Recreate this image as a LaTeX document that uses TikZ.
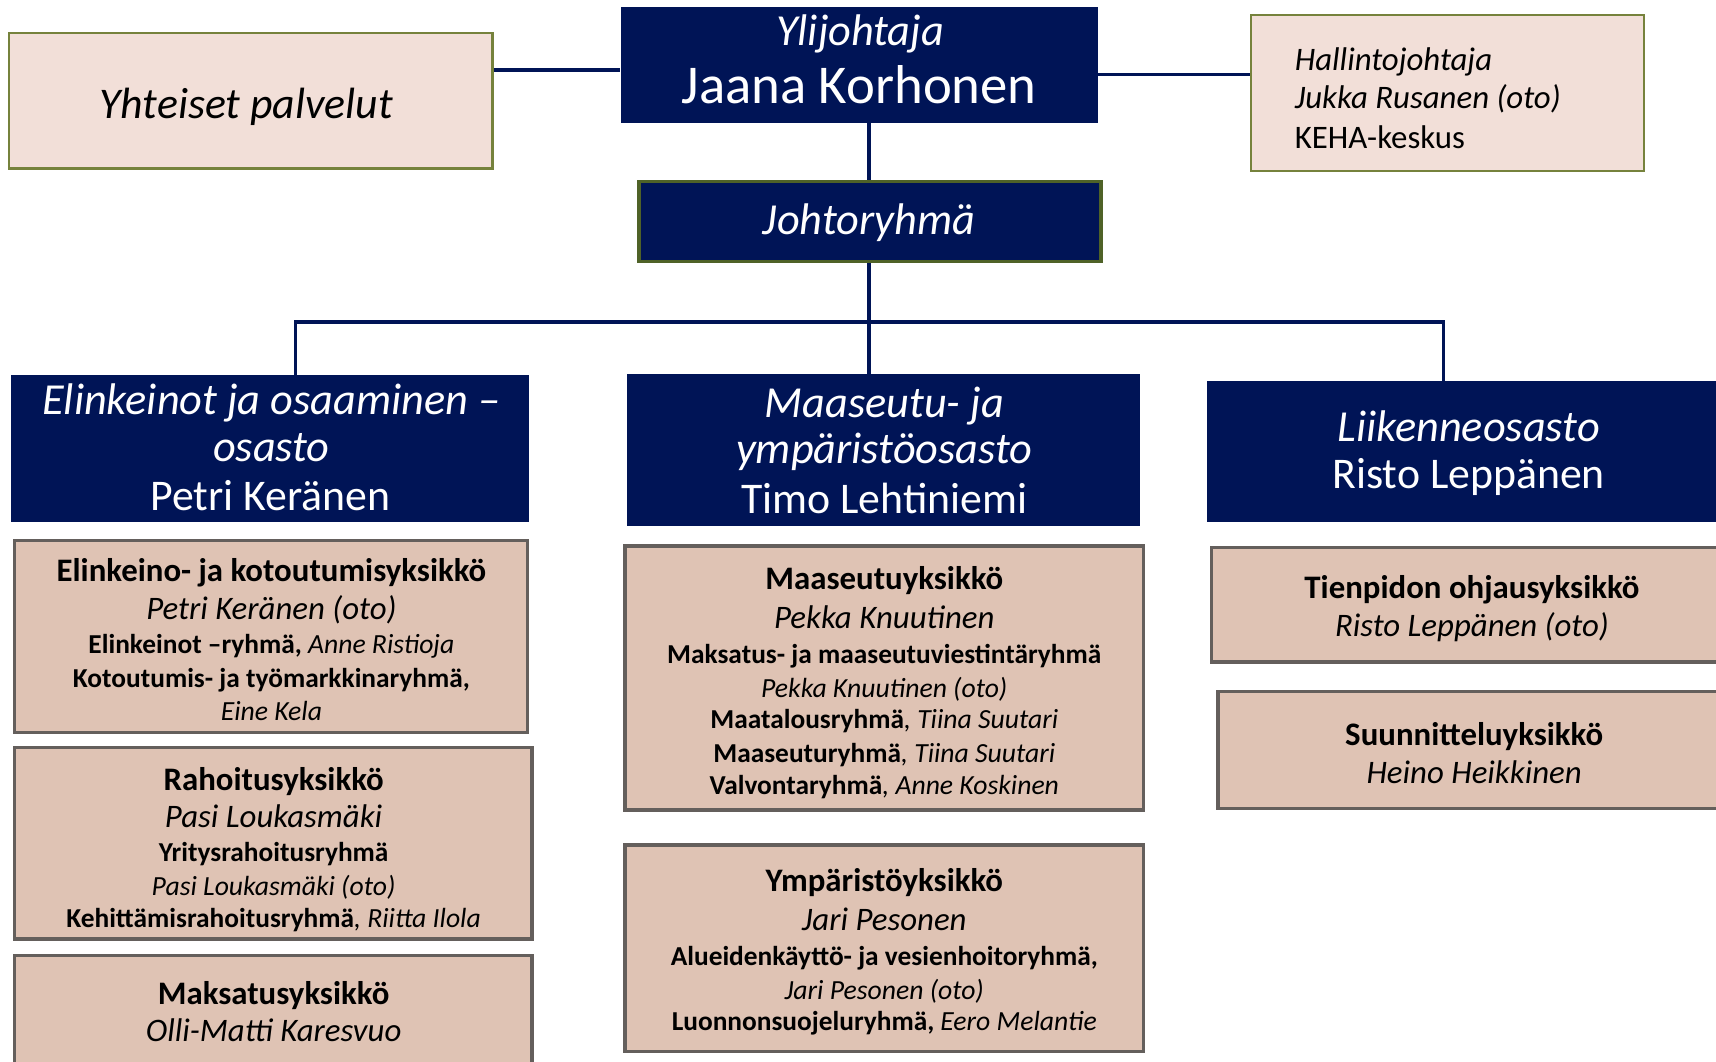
\documentclass[tikz,border=0pt]{standalone}
\usepackage{fontspec}
\setmainfont{Carlito}
\definecolor{navy}{RGB}{0,20,86}
\definecolor{pinkL}{RGB}{242,223,216}
\definecolor{oliveB}{RGB}{118,130,60}
\definecolor{oliveD}{RGB}{79,98,40}
\definecolor{tanU}{RGB}{223,195,180}
\definecolor{grayB}{RGB}{100,95,92}
\newcommand\fTitle{\fontsize{30}{36}\selectfont\bfseries}
\newcommand\fName{\fontsize{30}{36}\selectfont\itshape}
\newcommand\fSmall{\fontsize{25}{30}\selectfont}
\newcommand\sIt[1]{{\fontsize{25.3}{30}\selectfont\itshape #1}}
\newcommand\fDept{\fontsize{40}{44}\selectfont}
\newcommand\fDeptI{\fontsize{40.5}{44}\selectfont\itshape}
\begin{document}
\begin{tikzpicture}[x=1pt,y=-1pt,
  conn/.style={draw=navy,line width=3.4pt},
  navybox/.style={fill=navy,draw=none,inner sep=0pt},
  topbox/.style={fill=pinkL,draw=oliveB,line width=2pt,inner sep=0pt},
  jrbox/.style={fill=navy,draw=oliveD,line width=3pt,inner sep=0pt},
  unitbox/.style={fill=tanU,draw=grayB,line width=3pt,inner sep=0pt},
  txt/.style={anchor=base,inner sep=0pt,text=black},
  wtxt/.style={anchor=base,inner sep=0pt,text=white},
]
\useasboundingbox (0,0) rectangle (1568,969.5);
\clip (0,0) rectangle (1568,969.5);
\fill[white] (0,0) rectangle (1568,969.5);

% boxes
\node[topbox,minimum width=442,minimum height=124] (yp) at (229,92) {};
\node[navybox,minimum width=436,minimum height=106] (yl) at (785,59) {};
\node[topbox,minimum width=359,minimum height=142] (hj) at (1322.5,85) {};
\node[jrbox,minimum width=422,minimum height=73] (jr) at (795,202.5) {};
\node[navybox,minimum width=473,minimum height=134] (ed) at (246.5,410) {};
\node[navybox,minimum width=469,minimum height=139] (md) at (807.5,411.5) {};
\node[navybox,minimum width=478,minimum height=129] (ld) at (1342,412.5) {};
\node[unitbox,minimum width=469,minimum height=175] (u1) at (247.5,581.5) {};
\node[unitbox,minimum width=473,minimum height=175] (u2) at (249.5,770.5) {};
\node[unitbox,minimum width=473,minimum height=127] (u3) at (249.5,936.5) {};
\node[unitbox,minimum width=474,minimum height=241] (u4) at (808,619.5) {};
\node[unitbox,minimum width=474,minimum height=189] (u5) at (808,866.5) {};
\node[unitbox,minimum width=476,minimum height=105] (u6) at (1345,552.5) {};
\node[unitbox,minimum width=468,minimum height=107] (u7) at (1347,685.5) {};

% connectors
\coordinate (c1) at (0,64);
\coordinate (c2) at (0,68);
\coordinate (vx) at (794,0);
\coordinate (bl) at (270,294);
\coordinate (br) at (1319,294);
\draw[conn] (yp.east |- c1) -- (yl.west |- c1);
\draw[conn] (yl.east |- c2) -- (hj.west |- c2);
\draw[conn] (vx |- yl.south) -- (vx |- jr.north);
\draw[conn] (vx |- jr.south) -- (vx |- md.north);
\draw[conn] (bl |- ed.north) -- (bl) -- (br) -- (br |- ld.north);

% top texts
\node[txt,font=\fontsize{40}{44}\selectfont\itshape] (t1) at (225,108) {Yhteiset palvelut};
\node[wtxt,font=\fontsize{40.5}{44}\selectfont\itshape] (t2) at (786,42) {Ylijohtaja};
\node[wtxt,font=\fontsize{50}{56}\selectfont] (t3) at (785,95) {Jaana Korhonen};
\node[wtxt,font=\fontsize{40.5}{44}\selectfont\itshape] (t4) at (794,214) {Johtoryhmä};
\node[txt,anchor=base west,font=\fontsize{30}{34}\selectfont\itshape] (t5) at (1183,64) {Hallintojohtaja};
\node[txt,anchor=base west,font=\fontsize{30}{34}\selectfont\itshape] (t6) at (1183,99.5) {Jukka Rusanen (oto)};
\node[txt,anchor=base west,font=\fontsize{30}{34}\selectfont] (t7) at (1183,136) {KEHA-keskus};

% departments
\node[wtxt,font=\fDeptI] (d1) at (248,378.5) {Elinkeinot ja osaaminen –};
\node[wtxt,font=\fDeptI] (d2) at (248,421.5) {osasto};
\node[wtxt,font=\fDept] (d3) at (247,466.5) {Petri Keränen};
\node[wtxt,font=\fDeptI] (d4) at (808,381.5) {Maaseutu- ja};
\node[wtxt,font=\fDeptI] (d5) at (808,423.5) {ympäristöosasto};
\node[wtxt,font=\fDept] (d6) at (808,469.5) {Timo Lehtiniemi};
\node[wtxt,font=\fDeptI] (d7) at (1342,403.5) {Liikenneosasto};
\node[wtxt,font=\fDept] (d8) at (1342,446) {Risto Leppänen};

% unit 1
\node[txt,font=\fTitle] (a1) at (248,531) {Elinkeino- ja kotoutumisyksikkö};
\node[txt,font=\fName] (a2) at (248,566) {Petri Keränen (oto)};
\node[txt,font=\fSmall] (a3) at (248,597.5) {\textbf{Elinkeinot –ryhmä,} \sIt{Anne Ristioja}};
\node[txt,font=\fSmall\bfseries] (a4) at (248,628.5) {Kotoutumis- ja työmarkkinaryhmä,};
\node[txt,font=\fSmall] (a5) at (248,658.5) {\sIt{Eine Kela}};
% unit 2
\node[txt,font=\fTitle] (b1) at (250,722) {Rahoitusyksikkö};
\node[txt,font=\fName] (b2) at (250,756) {Pasi Loukasmäki};
\node[txt,font=\fSmall\bfseries] (b3) at (250,787.5) {Yritysrahoitusryhmä};
\node[txt,font=\fSmall] (b4) at (250,818.5) {\sIt{Pasi Loukasmäki (oto)}};
\node[txt,font=\fSmall] (b5) at (250,847.5) {\textbf{Kehittämisrahoitusryhmä}\sIt{, Riitta Ilola}};
% unit 3
\node[txt,font=\fTitle] (c1t) at (250,918) {Maksatusyksikkö};
\node[txt,font=\fName] (c2t) at (250,952) {Olli-Matti Karesvuo};
% unit 4
\node[txt,font=\fTitle] (e1) at (808,539) {Maaseutuyksikkö};
\node[txt,font=\fName] (e2) at (808,574) {Pekka Knuutinen};
\node[txt,font=\fSmall\bfseries] (e3) at (808,606) {Maksatus- ja maaseutuviestintäryhmä};
\node[txt,font=\fSmall] (e4) at (808,637) {\sIt{Pekka Knuutinen (oto)}};
\node[txt,font=\fSmall] (e5) at (808,666) {\textbf{Maatalousryhmä}\sIt{, Tiina Suutari}};
\node[txt,font=\fSmall] (e6) at (808,697) {\textbf{Maaseuturyhmä}\sIt{, Tiina Suutari}};
\node[txt,font=\fSmall] (e7) at (808,726) {\textbf{Valvontaryhmä}\sIt{, Anne Koskinen}};
% unit 5
\node[txt,font=\fTitle] (f1) at (808,815) {Ympäristöyksikkö};
\node[txt,font=\fName] (f2) at (808,850) {Jari Pesonen};
\node[txt,font=\fSmall\bfseries] (f3) at (808,882) {Alueidenkäyttö- ja vesienhoitoryhmä,};
\node[txt,font=\fSmall] (f4) at (808,913) {\sIt{Jari Pesonen (oto)}};
\node[txt,font=\fSmall] (f5) at (808,942) {\textbf{Luonnonsuojeluryhmä,} \sIt{Eero Melantie}};
% unit 6, 7
\node[txt,font=\fTitle] (g1) at (1345,547) {Tienpidon ohjausyksikkö};
\node[txt,font=\fName] (g2) at (1345,582) {Risto Leppänen (oto)};
\node[txt,font=\fTitle] (h1) at (1347,681) {Suunnitteluyksikkö};
\node[txt,font=\fName] (h2) at (1347,716) {Heino Heikkinen};
\end{tikzpicture}
\end{document}
